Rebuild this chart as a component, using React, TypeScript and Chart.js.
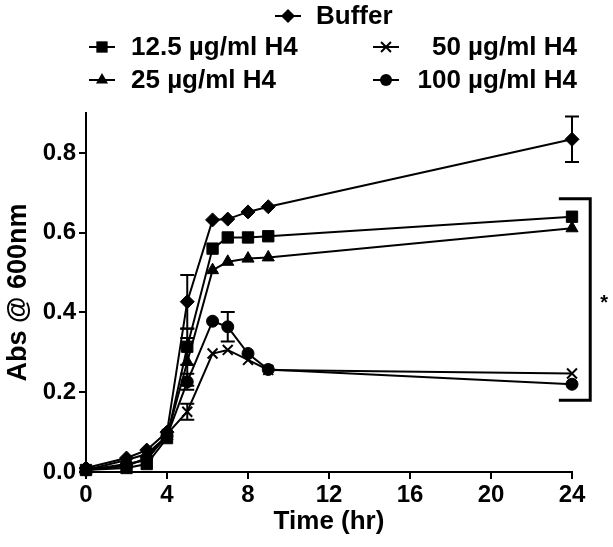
import React, { useEffect, useRef } from 'react';
import { Chart, registerables } from 'chart.js';

Chart.register(...registerables);

// ---- data ----
const times = [0, 2, 3, 4, 5, 6.25, 7, 8, 9, 24];
const seriesNames = ['Buffer', '12.5 µg/ml H4', '25 µg/ml H4', '50 µg/ml H4', '100 µg/ml H4'];
const bufferValues = [0.01, 0.035, 0.055, 0.1, 0.427, 0.632, 0.634, 0.652, 0.665, 0.834];
const h4_12_5Values = [0.005, 0.01, 0.02, 0.085, 0.314, 0.56, 0.588, 0.588, 0.591, 0.64];
const h4_25Values = [0.005, 0.03, 0.045, 0.09, 0.276, 0.506, 0.527, 0.535, 0.538, 0.611];
const h4_50Values = [0.005, 0.02, 0.03, 0.095, 0.151, 0.297, 0.306, 0.281, 0.256, 0.247];
const h4_100Values = [0.005, 0.015, 0.035, 0.09, 0.226, 0.378, 0.364, 0.297, 0.257, 0.22];

const bufferErr = [0, 0, 0, 0, 0.067, 0, 0, 0, 0, 0.057];
const h4_12_5Err = [0, 0, 0, 0, 0.045, 0, 0, 0, 0, 0];
const h4_25Err = [0, 0, 0, 0, 0.06, 0, 0, 0, 0, 0];
const h4_50Err = [0, 0, 0, 0, 0.02, 0, 0, 0, 0, 0];
const h4_100Err = [0, 0, 0, 0, 0.02, 0, 0.037, 0, 0, 0];

const xTicks = [0, 4, 8, 12, 16, 20, 24];
const yTicks = [0, 0.2, 0.4, 0.6, 0.8];

// significance bracket (data units)
const bracketTop = 0.685;
const bracketBottom = 0.18;
const bracketX = 24.9;
const bracketArmX = 23.35;
const bracketLabel = '*';

const FONT = '"Liberation Sans", Arial, Helvetica, sans-serif';

type Marker = 'rectRot' | 'rect' | 'triangle' | 'crossRot' | 'circle';

const markers: Marker[] = ['rectRot', 'rect', 'triangle', 'crossRot', 'circle'];
const markerRadius = [7, 8, 7, 7, 6];
const allValues = [bufferValues, h4_12_5Values, h4_25Values, h4_50Values, h4_100Values];
const allErrs = [bufferErr, h4_12_5Err, h4_25Err, h4_50Err, h4_100Err];

function drawMarker(ctx: CanvasRenderingContext2D, style: Marker, x: number, y: number, r: number) {
  ctx.save();
  ctx.fillStyle = '#000';
  ctx.strokeStyle = '#000';
  ctx.lineWidth = 2;
  ctx.beginPath();
  if (style === 'rectRot') {
    ctx.moveTo(x, y - r);
    ctx.lineTo(x + r, y);
    ctx.lineTo(x, y + r);
    ctx.lineTo(x - r, y);
    ctx.closePath();
    ctx.fill();
  } else if (style === 'rect') {
    const s = r * Math.SQRT1_2;
    ctx.rect(x - s, y - s, 2 * s, 2 * s);
    ctx.fill();
  } else if (style === 'triangle') {
    ctx.moveTo(x, y - r);
    ctx.lineTo(x + r * 0.866, y + r * 0.5);
    ctx.lineTo(x - r * 0.866, y + r * 0.5);
    ctx.closePath();
    ctx.fill();
  } else if (style === 'crossRot') {
    const s = r * Math.SQRT1_2;
    ctx.moveTo(x - s, y - s);
    ctx.lineTo(x + s, y + s);
    ctx.moveTo(x + s, y - s);
    ctx.lineTo(x - s, y + s);
    ctx.stroke();
  } else {
    ctx.arc(x, y, r, 0, Math.PI * 2);
    ctx.fill();
  }
  ctx.restore();
}

const legendPlugin = {
  id: 'customLegend',
  afterDraw(chart: any) {
    const ctx: CanvasRenderingContext2D = chart.ctx;
    ctx.save();
    ctx.font = `bold 26px ${FONT}`;
    ctx.fillStyle = '#000';
    ctx.textBaseline = 'middle';
    const items = [
      { i: 0, mx: 288, y: 16, tx: 316, align: 'left' },
      { i: 1, mx: 102, y: 47, tx: 131, align: 'left' },
      { i: 3, mx: 386, y: 47, tx: 577, align: 'right' },
      { i: 2, mx: 102, y: 80, tx: 131, align: 'left' },
      { i: 4, mx: 386, y: 80, tx: 577, align: 'right' },
    ];
    for (const it of items) {
      ctx.strokeStyle = '#000';
      ctx.lineWidth = 2;
      ctx.beginPath();
      ctx.moveTo(it.mx - 13, it.y);
      ctx.lineTo(it.mx + 13, it.y);
      ctx.stroke();
      drawMarker(ctx, markers[it.i], it.mx, it.y, markerRadius[it.i]);
      ctx.textAlign = it.align as CanvasTextAlign;
      ctx.fillText(seriesNames[it.i], it.tx, it.y + 1);
    }
    ctx.restore();
  },
};

const errorBarPlugin = {
  id: 'errorBars',
  afterDatasetsDraw(chart: any) {
    const ctx: CanvasRenderingContext2D = chart.ctx;
    const xs = chart.scales.x;
    const ys = chart.scales.y;
    ctx.save();
    ctx.strokeStyle = '#000';
    ctx.lineWidth = 2;
    allErrs.forEach((errs, d) => {
      errs.forEach((e, k) => {
        if (!e) return;
        const v = allValues[d][k];
        const px = xs.getPixelForValue(times[k]);
        const pTop = ys.getPixelForValue(v + e);
        const pBot = ys.getPixelForValue(v - e);
        ctx.beginPath();
        ctx.moveTo(px, pTop);
        ctx.lineTo(px, pBot);
        ctx.moveTo(px - 7, pTop);
        ctx.lineTo(px + 7, pTop);
        ctx.moveTo(px - 7, pBot);
        ctx.lineTo(px + 7, pBot);
        ctx.stroke();
      });
    });
    ctx.restore();
  },
};

const bracketPlugin = {
  id: 'bracket',
  afterDraw(chart: any) {
    const ctx: CanvasRenderingContext2D = chart.ctx;
    const xs = chart.scales.x;
    const ys = chart.scales.y;
    const xv = xs.getPixelForValue(bracketX);
    const xa = xs.getPixelForValue(bracketArmX);
    const yt = ys.getPixelForValue(bracketTop);
    const yb = ys.getPixelForValue(bracketBottom);
    ctx.save();
    ctx.strokeStyle = '#000';
    ctx.lineWidth = 3;
    ctx.beginPath();
    ctx.moveTo(xa, yt);
    ctx.lineTo(xv, yt);
    ctx.lineTo(xv, yb);
    ctx.lineTo(xa, yb);
    ctx.stroke();
    ctx.fillStyle = '#000';
    ctx.font = `bold 20px ${FONT}`;
    ctx.textAlign = 'center';
    ctx.textBaseline = 'middle';
    ctx.fillText(bracketLabel, xv + 14, (yt + yb) / 2 + 4);
    ctx.restore();
  },
};

export default function App() {
  const canvasRef = useRef<HTMLCanvasElement | null>(null);

  useEffect(() => {
    if (!canvasRef.current) return;
    const datasets = allValues.map((vals, d) => ({
      label: seriesNames[d],
      data: vals.map((v, k) => ({ x: times[k], y: v })),
      borderColor: '#000',
      backgroundColor: '#000',
      borderWidth: 2,
      pointStyle: markers[d],
      pointRadius: markerRadius[d],
      pointBorderWidth: d === 3 ? 2 : 1,
      pointBackgroundColor: '#000',
      pointBorderColor: '#000',
      tension: 0,
      clip: false as any,
    }));

    const chart = new Chart(canvasRef.current, {
      type: 'line',
      data: { datasets },
      options: {
        animation: false,
        responsive: false,
        devicePixelRatio: 1,
        layout: { padding: { top: 113, right: 41, left: 0, bottom: 0 } },
        plugins: { legend: { display: false }, tooltip: { enabled: false } },
        scales: {
          x: {
            type: 'linear',
            min: 0,
            max: 24,
            afterFit: (s: any) => { s.height = 75; },
            afterBuildTicks: (s: any) => { s.ticks = xTicks.map((v) => ({ value: v })); },
            ticks: {
              color: '#000',
              font: { family: FONT, size: 24, weight: 'bold' },
              padding: 2,
              maxRotation: 0,
            },
            grid: { drawOnChartArea: false, drawTicks: true, tickLength: 7, color: '#000', lineWidth: 2 },
            border: { display: true, color: '#000', width: 2 },
            title: {
              display: true,
              text: 'Time (hr)',
              color: '#000',
              font: { family: FONT, size: 26, weight: 'bold' },
              padding: { top: 0, bottom: 10 },
            },
          },
          y: {
            min: 0,
            max: 0.9,
            afterFit: (s: any) => { s.width = 86; },
            afterBuildTicks: (s: any) => { s.ticks = yTicks.map((v) => ({ value: v })); },
            ticks: {
              color: '#000',
              font: { family: FONT, size: 24, weight: 'bold' },
              padding: 3,
              callback: (v: any) => Number(v).toFixed(1),
            },
            grid: { drawOnChartArea: false, drawTicks: true, tickLength: 7, color: '#000', lineWidth: 2 },
            border: { display: true, color: '#000', width: 2 },
            title: {
              display: true,
              text: 'Abs @ 600nm',
              color: '#000',
              font: { family: FONT, size: 27, weight: 'bold' },
              padding: { top: 2, bottom: 0 },
            },
          },
        },
      },
      plugins: [errorBarPlugin, bracketPlugin, legendPlugin],
    });
    return () => chart.destroy();
  }, []);

  return (
    <div style={{ position: 'absolute', left: 0, top: 0, width: 613, height: 547, background: '#fff' }}>
      <canvas ref={canvasRef} width={613} height={547} style={{ display: 'block' }} />
    </div>
  );
}
